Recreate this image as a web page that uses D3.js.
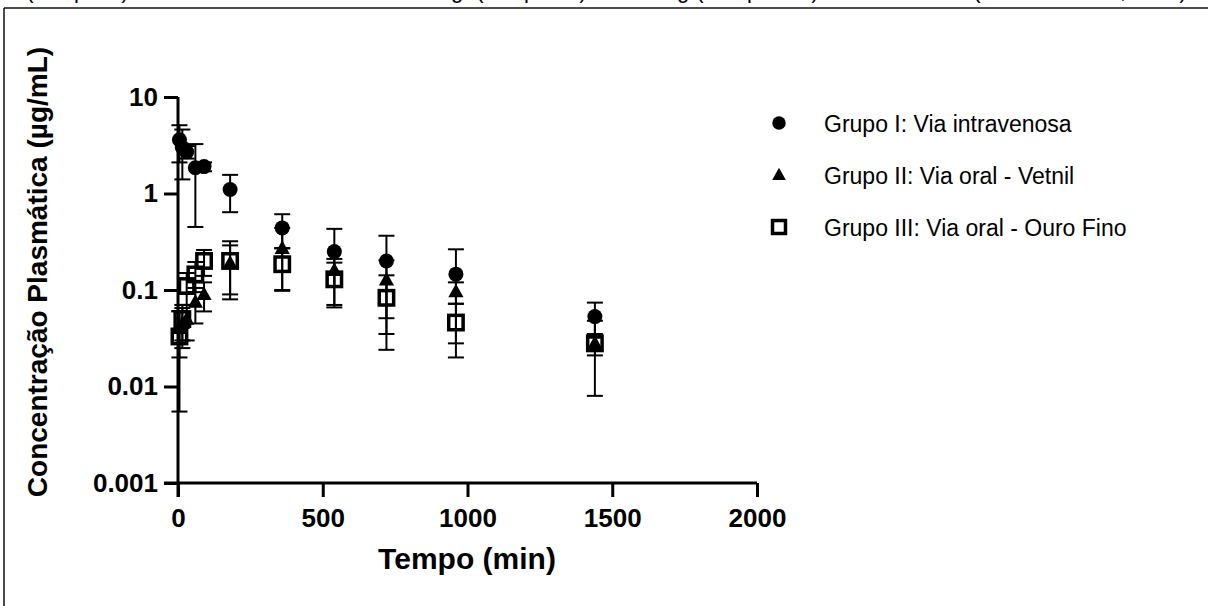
<!DOCTYPE html>
<html>
<head>
    <meta charset="utf-8" />
    <title>Concentração plasmática</title>
    <script src="https://cdn.jsdelivr.net/npm/d3@7"></script>
    <style>
        body { margin: 0; background: #fff; }
        text { font-family: "Liberation Sans", Arial, sans-serif; fill: #000; }
    </style>
</head>
<body>
</body>
<script charset="utf-8">

    // tempos de coleta (min)
    var tempos = [5, 15, 30, 60, 90, 180, 360, 540, 720, 960, 1440];

    // médias e desvios (µg/mL)
    var grupoI      = [3.6, 3.0, 2.7, 1.85, 1.9, 1.1, 0.44, 0.25, 0.2, 0.146, 0.053];
    var grupoI_dp   = [1.5, 1.6, 0.4, 1.4, 0.2, 0.46, 0.17, 0.18, 0.165, 0.118, 0.021];
    var grupoII     = [0.04, 0.045, 0.05, 0.075, 0.09, 0.19, 0.27, 0.16, 0.127, 0.096, 0.028];
    var grupoII_dp  = [0.02, 0.02, 0.02, 0.03, 0.03, 0.1, 0.17, 0.05, 0.076, 0.024, 0.007];
    var grupoIII    = [0.033, 0.05, 0.11, 0.145, 0.2, 0.2, 0.185, 0.129, 0.083, 0.046, 0.028];
    var grupoIII_dp = [0.0275, 0.02, 0.04, 0.05, 0.06, 0.12, 0.087, 0.063, 0.059, 0.026, 0.02];

    var nomes = ['Grupo I: Via intravenosa', 'Grupo II: Via oral - Vetnil', 'Grupo III: Via oral - Ouro Fino'];
    var xTicks = [0, 500, 1000, 1500, 2000];
    var yTicks = [0.001, 0.01, 0.1, 1, 10];

    var width = 1208;
    var height = 606;
    var svg = d3.select('body').append('svg').attr('width', width).attr('height', height);

    // moldura / linha cortada do documento
    svg.append('line').attr('x1', 4).attr('x2', width).attr('y1', 8).attr('y2', 8)
        .attr('stroke', '#111').attr('stroke-width', 1.5);
    svg.append('line').attr('x1', 4).attr('x2', 4).attr('y1', 8).attr('y2', height)
        .attr('stroke', '#111').attr('stroke-width', 1.5);
    var cortes = [['(', 30], ['p', 80], [')', 125], ['g', 457], ['(', 480], ['p', 530], [')', 583],
                  ['g', 683], ['(', 700], ['p', 753], [')', 815], ['(', 977], [',', 1123], [')', 1183]];
    svg.selectAll('text.corte').data(cortes).enter().append('text')
        .attr('class', 'corte')
        .attr('x', function(d){ return d[1]; })
        .attr('y', -2)
        .attr('text-anchor', 'middle')
        .attr('font-size', '22px')
        .text(function(d){ return d[0]; });

    var x = d3.scaleLinear().domain([0, 2000]).range([178, 757]);
    var y = d3.scaleLog().domain([0.001, 10]).range([483, 97]);

    var fmt = function(d){ return String(d); };

    var gx = svg.append('g').attr('transform', 'translate(0,483)')
        .call(d3.axisBottom(x).tickValues(xTicks).tickFormat(fmt).tickSize(14).tickPadding(12).tickSizeOuter(0));
    var gy = svg.append('g').attr('transform', 'translate(178,0)')
        .call(d3.axisLeft(y).tickValues(yTicks).tickFormat(fmt).tickSize(14).tickPadding(6).tickSizeOuter(0));

    [gx, gy].forEach(function(g){
        g.select('.domain').remove();
        g.selectAll('.tick line').attr('stroke', '#000').attr('stroke-width', 3);
        g.selectAll('.tick text').attr('font-size', '26px').attr('font-weight', 'bold')
            .attr('font-family', '"Liberation Sans", Arial, sans-serif').attr('fill', '#000');
    });

    // linhas dos eixos
    svg.append('line').attr('x1', 178).attr('x2', 178).attr('y1', y(10)).attr('y2', 497)
        .attr('stroke', '#000').attr('stroke-width', 3);
    svg.append('line').attr('x1', 164).attr('x2', x(2000)).attr('y1', 483).attr('y2', 483)
        .attr('stroke', '#000').attr('stroke-width', 3);

    // títulos
    svg.append('text').attr('x', 467).attr('y', 569).attr('text-anchor', 'middle')
        .attr('font-size', '30px').attr('font-weight', 'bold').text('Tempo (min)');
    svg.append('text').attr('transform', 'translate(47,272) rotate(-90)').attr('text-anchor', 'middle')
        .attr('font-size', '28px').attr('font-weight', 'bold').text('Concentração Plasmática (µg/mL)');

    var grupos = [
        { media: grupoI, dp: grupoI_dp, simbolo: 'circle' },
        { media: grupoII, dp: grupoII_dp, simbolo: 'triangle' },
        { media: grupoIII, dp: grupoIII_dp, simbolo: 'square' }
    ];

    var capW = 8;
    var plot = svg.append('g');

    function marcador(g, tipo, escala) {
        escala = escala || 1;
        if (tipo === 'circle') {
            g.append('circle').attr('r', 7.5 * escala).attr('fill', '#000');
        } else if (tipo === 'triangle') {
            var s = 8 * escala;
            g.append('path').attr('d', 'M0,' + (-s) + 'L' + (s * 0.95) + ',' + (s * 0.7) + 'L' + (-s * 0.95) + ',' + (s * 0.7) + 'Z')
                .attr('fill', '#000');
        } else {
            var h = 7.2 * escala;
            g.append('rect').attr('x', -h).attr('y', -h).attr('width', 2 * h).attr('height', 2 * h)
                .attr('fill', 'none').attr('stroke', '#000').attr('stroke-width', 3.5);
        }
    }

    grupos.forEach(function(gr){
        var pts = tempos.map(function(t, i){ return { t: t, m: gr.media[i], sd: gr.dp[i] }; });
        var gg = plot.append('g');
        var eb = gg.selectAll('g.eb').data(pts).enter().append('g').attr('class', 'eb');
        eb.append('line')
            .attr('x1', function(d){ return x(d.t); }).attr('x2', function(d){ return x(d.t); })
            .attr('y1', function(d){ return y(d.m + d.sd); }).attr('y2', function(d){ return y(d.m - d.sd); })
            .attr('stroke', '#000').attr('stroke-width', 2);
        eb.append('line')
            .attr('x1', function(d){ return x(d.t) - capW; }).attr('x2', function(d){ return x(d.t) + capW; })
            .attr('y1', function(d){ return y(d.m + d.sd); }).attr('y2', function(d){ return y(d.m + d.sd); })
            .attr('stroke', '#000').attr('stroke-width', 2);
        eb.append('line')
            .attr('x1', function(d){ return x(d.t) - capW; }).attr('x2', function(d){ return x(d.t) + capW; })
            .attr('y1', function(d){ return y(d.m - d.sd); }).attr('y2', function(d){ return y(d.m - d.sd); })
            .attr('stroke', '#000').attr('stroke-width', 2);
        gg.selectAll('g.pt').data(pts).enter().append('g').attr('class', 'pt')
            .attr('transform', function(d){ return 'translate(' + x(d.t) + ',' + y(d.m) + ')'; })
            .each(function(){ marcador(d3.select(this), gr.simbolo); });
    });

    // legenda
    var legY = [123, 175, 227];
    var leg = svg.append('g').selectAll('g').data(nomes).enter().append('g')
        .attr('transform', function(d, i){ return 'translate(779,' + legY[i] + ')'; });
    leg.each(function(d, i){ marcador(d3.select(this), grupos[i].simbolo, 0.9); });
    leg.append('text').attr('x', 45).attr('y', 9).attr('font-size', '23px').text(function(d){ return d; });

</script>
</html>
